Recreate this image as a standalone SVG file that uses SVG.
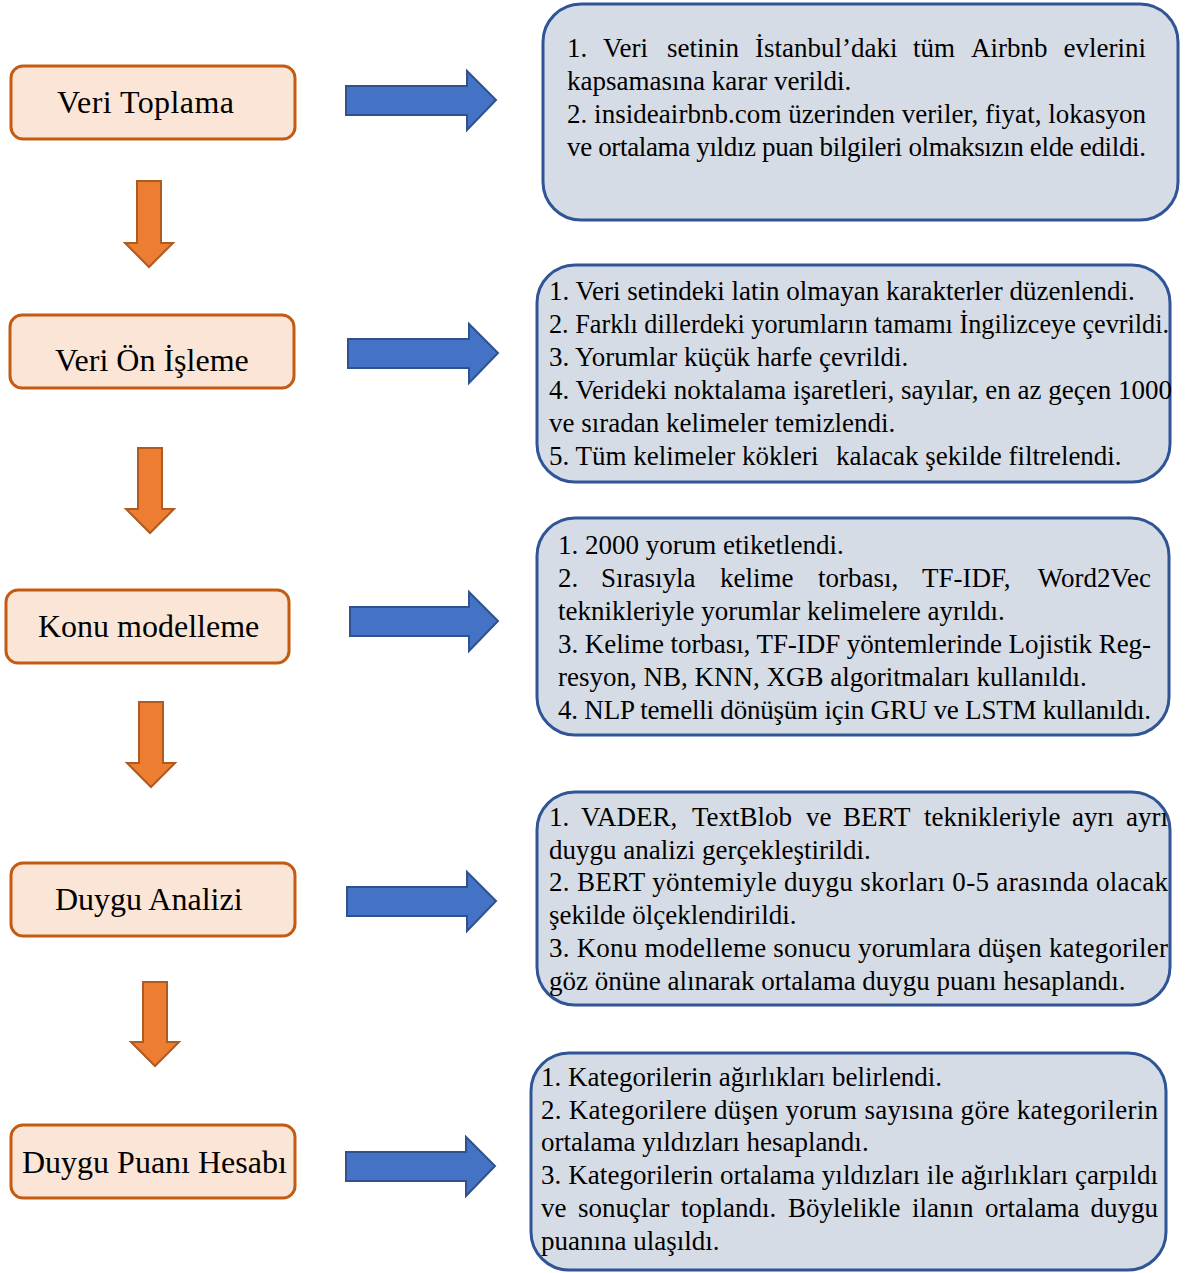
<svg xmlns="http://www.w3.org/2000/svg" width="1187" height="1273" viewBox="0 0 1187 1273">
<defs>
<style>
.step{fill:#FBE5D6;stroke:#C55A11;stroke-width:3}
.lbl{font-family:"Liberation Serif","Times New Roman",serif;font-size:32px;fill:#000}
.info{fill:#D6DCE5;stroke:#2F5597;stroke-width:3}
.t{font-family:"Liberation Serif","Times New Roman",serif;font-size:27px;fill:#000}
.down{fill:#ED7D31;stroke:#AE5A21;stroke-width:2}
.right{fill:#4472C4;stroke:#2F528F;stroke-width:2}
</style>
</defs>
<rect width="1187" height="1273" fill="#fff"/>
<g id="connectors">
<path class="down" d="M137,181 H161 V243 H173 L149,267 L125,243 H137 Z"/>
<path class="down" d="M138,448 H162 V509 H174 L150,533 L126,509 H138 Z"/>
<path class="down" d="M139,702 H163 V763 H175 L151,787 L127,763 H139 Z"/>
<path class="down" d="M143,982 H167 V1042 H179 L155,1066 L131,1042 H143 Z"/>
<path class="right" d="M346,86 H467 V71 L496,100 L467,130 V115 H346 Z"/>
<path class="right" d="M348,339 H469 V324 L498,353 L469,383 V368 H348 Z"/>
<path class="right" d="M350,607 H469 V592 L498,621 L469,651 V636 H350 Z"/>
<path class="right" d="M347,887 H467 V872 L496,901 L467,931 V916 H347 Z"/>
<path class="right" d="M346,1152 H466 V1137 L495,1166 L466,1196 V1181 H346 Z"/>
</g>
<g id="n1"><rect class="step" x="11" y="66" width="284" height="73" rx="12"/><text class="lbl" x="57" y="113" textLength="177" lengthAdjust="spacing">Veri Toplama</text></g>
<g id="n2"><rect class="step" x="10" y="315" width="284" height="73" rx="12"/><text class="lbl" x="55" y="371">Veri Ön İşleme</text></g>
<g id="n3"><rect class="step" x="6" y="590" width="283" height="73" rx="12"/><text class="lbl" x="38" y="637">Konu modelleme</text></g>
<g id="n4"><rect class="step" x="11" y="863" width="284" height="73" rx="12"/><text class="lbl" x="55" y="910">Duygu Analizi</text></g>
<g id="n5"><rect class="step" x="11" y="1125" width="284" height="73" rx="12"/><text class="lbl" x="22" y="1173">Duygu Puanı Hesabı</text></g>

<g id="d1"><rect class="info" x="543" y="4" width="635" height="216" rx="38"/>
<text class="t" y="57"><tspan x="567">1.</tspan><tspan x="603">Veri</tspan><tspan x="667">setinin</tspan><tspan x="755">İstanbul’daki</tspan><tspan x="913">tüm</tspan><tspan x="971">Airbnb</tspan><tspan x="1146" text-anchor="end">evlerini</tspan></text>
<text class="t" x="567" y="90">kapsamasına karar verildi.</text>
<text class="t" x="567" y="123" textLength="579" lengthAdjust="spacing">2. insideairbnb.com üzerinden veriler, fiyat, lokasyon</text>
<text class="t" x="567" y="156" textLength="579" lengthAdjust="spacing">ve ortalama yıldız puan bilgileri olmaksızın elde edildi.</text>
</g>
<g id="d2"><rect class="info" x="537" y="265" width="633" height="217" rx="38"/>
<text class="t" x="549" y="300">1. Veri setindeki latin olmayan karakterler düzenlendi.</text>
<text class="t" x="549" y="333" textLength="620" lengthAdjust="spacingAndGlyphs">2. Farklı dillerdeki yorumların tamamı İngilizceye çevrildi.</text>
<text class="t" x="549" y="366">3. Yorumlar küçük harfe çevrildi.</text>
<text class="t" x="549" y="399">4. Verideki noktalama işaretleri, sayılar, en az geçen 1000</text>
<text class="t" x="549" y="432">ve sıradan kelimeler temizlendi.</text>
<text class="t" y="465"><tspan x="549">5. Tüm kelimeler kökleri</tspan><tspan x="836">kalacak şekilde filtrelendi.</tspan></text>
</g>
<g id="d3"><rect class="info" x="537" y="518" width="632" height="217" rx="38"/>
<text class="t" x="558" y="554">1. 2000 yorum etiketlendi.</text>
<text class="t" y="587"><tspan x="558">2.</tspan><tspan x="601">Sırasıyla</tspan><tspan x="720">kelime</tspan><tspan x="818">torbası,</tspan><tspan x="922">TF-IDF,</tspan><tspan x="1151" text-anchor="end">Word2Vec</tspan></text>
<text class="t" x="558" y="620">teknikleriyle yorumlar kelimelere ayrıldı.</text>
<text class="t" x="558" y="653" textLength="593" lengthAdjust="spacing">3. Kelime torbası, TF-IDF yöntemlerinde Lojistik Reg-</text>
<text class="t" x="558" y="686">resyon, NB, KNN, XGB algoritmaları kullanıldı.</text>
<text class="t" x="558" y="719" textLength="593" lengthAdjust="spacing">4. NLP temelli dönüşüm için GRU ve LSTM kullanıldı.</text>
</g>
<g id="d4"><rect class="info" x="537" y="792" width="633" height="213" rx="38"/>
<text class="t" y="826"><tspan x="549">1.</tspan><tspan x="581">VADER,</tspan><tspan x="692">TextBlob</tspan><tspan x="806">ve</tspan><tspan x="843">BERT</tspan><tspan x="924">teknikleriyle</tspan><tspan x="1072">ayrı</tspan><tspan x="1168" text-anchor="end">ayrı</tspan></text>
<text class="t" x="549" y="859">duygu analizi gerçekleştirildi.</text>
<text class="t" x="549" y="891" textLength="619" lengthAdjust="spacing">2. BERT yöntemiyle duygu skorları 0-5 arasında olacak</text>
<text class="t" x="549" y="924">şekilde ölçeklendirildi.</text>
<text class="t" x="549" y="957" textLength="619" lengthAdjust="spacing">3. Konu modelleme sonucu yorumlara düşen kategoriler</text>
<text class="t" x="549" y="990">göz önüne alınarak ortalama duygu puanı hesaplandı.</text>
</g>
<g id="d5"><rect class="info" x="531" y="1053" width="635" height="217" rx="38"/>
<text class="t" x="541" y="1086">1. Kategorilerin ağırlıkları belirlendi.</text>
<text class="t" x="541" y="1119" textLength="617" lengthAdjust="spacing">2. Kategorilere düşen yorum sayısına göre kategorilerin</text>
<text class="t" x="541" y="1151">ortalama yıldızları hesaplandı.</text>
<text class="t" x="541" y="1184" textLength="617" lengthAdjust="spacing">3. Kategorilerin ortalama yıldızları ile ağırlıkları çarpıldı</text>
<text class="t" y="1217"><tspan x="541">ve</tspan><tspan x="578">sonuçlar</tspan><tspan x="681">toplandı.</tspan><tspan x="788">Böylelikle</tspan><tspan x="912">ilanın</tspan><tspan x="985">ortalama</tspan><tspan x="1158" text-anchor="end">duygu</tspan></text>
<text class="t" x="541" y="1250">puanına ulaşıldı.</text>
</g>
</svg>
